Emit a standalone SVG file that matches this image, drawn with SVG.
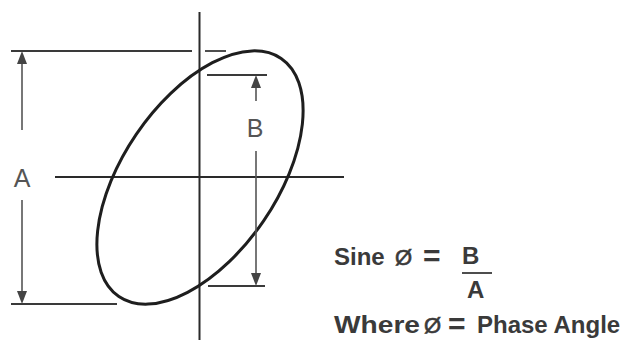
<svg xmlns="http://www.w3.org/2000/svg" width="622" height="340" viewBox="0 0 622 340">
<style>
.axis{stroke:#2a2a2a;stroke-width:2;fill:none}
.ext{stroke:#3a3a3a;stroke-width:1.8;fill:none}
.dim{stroke:#555;stroke-width:1.6;fill:none}
.ell{stroke:#1e1e1e;stroke-width:3;fill:none}
.lbl{font-family:"Liberation Sans",Arial,sans-serif;font-size:25px;fill:#555}
.eq{font-family:"Liberation Sans",Arial,sans-serif;font-size:24px;font-weight:bold;fill:#3a3a3a}
.eqs{font-family:"Liberation Sans",Arial,sans-serif;font-size:30px;font-weight:bold;fill:#3a3a3a}
.phi{font-family:"Liberation Sans",Arial,sans-serif;font-size:22px;fill:#3a3a3a;stroke:#3a3a3a;stroke-width:0.6}
.ah{fill:#444}
</style>
<rect width="622" height="340" fill="#ffffff"/>
<g id="axes">
<line class="axis" x1="199.5" y1="12" x2="199.5" y2="340"/>
<line class="axis" x1="55" y1="177" x2="344" y2="177"/>
</g>
<g id="ellipse">
<ellipse class="ell" cx="200" cy="177.5" rx="144" ry="77" transform="rotate(-55.7 200 177.5)"/>
</g>
<g id="connectors">
<line class="ext" x1="11" y1="51" x2="192" y2="51"/>
<line class="ext" x1="205" y1="51" x2="226" y2="51"/>
<line class="ext" x1="11" y1="304" x2="117" y2="304"/>
<line class="ext" x1="207" y1="75" x2="267" y2="75"/>
<line class="ext" x1="208" y1="286" x2="265" y2="286"/>
<line class="dim" x1="22" y1="60" x2="22" y2="130"/>
<line class="dim" x1="22" y1="200" x2="22" y2="294"/>
<line class="dim" x1="256" y1="84" x2="256" y2="101"/>
<line class="dim" x1="256" y1="151" x2="256" y2="276"/>
<polygon class="ah" points="22,51 17,64 27,64"/>
<polygon class="ah" points="22,304 17,291 27,291"/>
<polygon class="ah" points="256,75 251,88 261,88"/>
<polygon class="ah" points="256,286 251,273 261,273"/>
</g>
<g id="label-A"><text class="lbl" x="22" y="187" text-anchor="middle">A</text></g>
<g id="label-B"><text class="lbl" x="255" y="137" text-anchor="middle">B</text></g>
<g id="formula">
<text class="eq" x="334" y="265">Sine</text>
<text class="phi" x="395" y="265">Ø</text>
<text class="eqs" x="423" y="266">=</text>
<text class="eq" x="462" y="264">B</text>
<line x1="462" y1="273" x2="492" y2="273" stroke="#3a3a3a" stroke-width="1.8"/>
<text class="eq" x="467" y="298">A</text>
<text class="eq" x="334" y="333" textLength="86" lengthAdjust="spacingAndGlyphs">Where</text>
<text class="phi" x="424" y="333">Ø</text>
<text class="eqs" x="448" y="334">=</text>
<text class="eq" x="477" y="333">Phase Angle</text>
</g>
</svg>
